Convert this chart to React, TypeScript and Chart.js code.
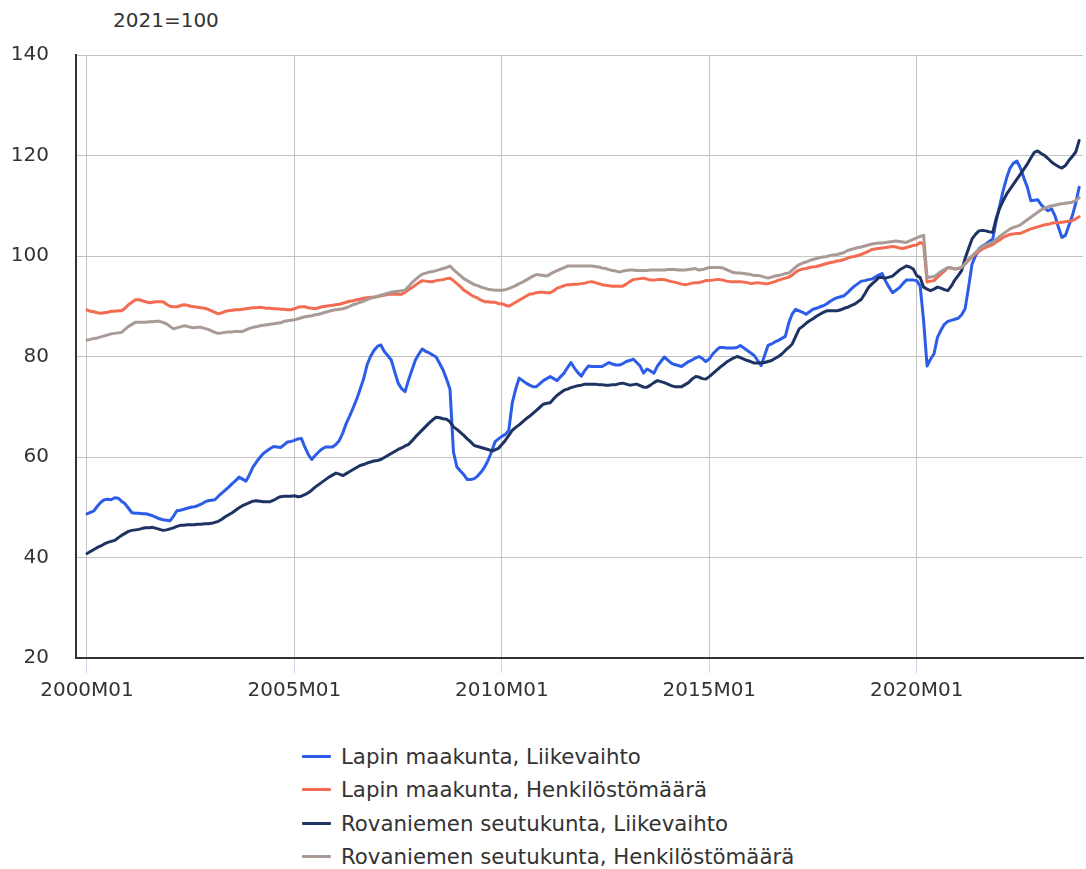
import React, { useEffect, useRef } from "react";
import { Chart, registerables } from "chart.js";

Chart.register(...registerables);

const YEARS: number[] = [2000, 2001, 2002, 2003, 2004, 2005, 2006, 2007, 2008, 2009, 2010, 2011, 2012, 2013, 2014, 2015, 2016, 2017, 2018, 2019, 2020, 2021, 2022, 2023];
const MONTHS: string[] = ["01", "02", "03", "04", "05", "06", "07", "08", "09", "10", "11", "12"];
const CATEGORIES: string[] = YEARS.flatMap((y) => MONTHS.map((m) => `${y}M${m}`));
const TICK_LABELS: string[] = ["2000M01", "2005M01", "2010M01", "2015M01", "2020M01"];
const Y_TICKS: number[] = [20, 40, 60, 80, 100, 120, 140];
const UNIT_LABEL = "2021=100";

const SERIES_NAMES: string[] = [
  "Lapin maakunta, Liikevaihto",
  "Lapin maakunta, Henkilöstömäärä",
  "Rovaniemen seutukunta, Liikevaihto",
  "Rovaniemen seutukunta, Henkilöstömäärä",
];
const SERIES_COLORS: string[] = ["#2b5de8", "#f36b50", "#1e3362", "#a99a96"];

const lapinLiikevaihto: number[] = [
  48.7, 49.0, 49.3, 50.2, 51.0, 51.5, 51.6, 51.5, 51.9, 51.8, 51.2, 50.7,
  49.8, 48.9, 48.8, 48.8, 48.7, 48.7, 48.5, 48.3, 48.0, 47.7, 47.5, 47.4,
  47.3, 48.2, 49.3, 49.4, 49.6, 49.8, 50.0, 50.1, 50.3, 50.6, 51.0, 51.3,
  51.4, 51.5, 52.2, 52.8, 53.4, 54.0, 54.7, 55.3, 56.0, 55.6, 55.2, 56.5,
  58.0, 59.0, 59.9, 60.7, 61.2, 61.7, 62.1, 62.0, 61.9, 62.4, 63.0, 63.1,
  63.3, 63.6, 63.7, 62.0, 60.5, 59.5, 60.3, 61.0, 61.6, 62.0, 62.0, 62.0,
  62.5, 63.3, 64.8, 66.7, 68.2, 69.8, 71.5, 73.5, 75.5, 78.3, 80.0, 81.2,
  82.0, 82.3, 81.0, 80.2, 79.3, 77.0, 74.7, 73.6, 73.0, 75.3, 77.3, 79.3,
  80.5, 81.5, 81.0, 80.7, 80.3, 79.9, 78.6, 77.3, 75.5, 73.5, 61.0, 58.0,
  57.2, 56.5, 55.5, 55.5, 55.7, 56.2, 57.0, 58.0, 59.3, 61.0, 63.0, 63.6,
  64.1, 64.5, 65.3, 70.7, 73.5, 75.7, 75.2, 74.7, 74.3, 74.0, 74.0, 74.6,
  75.2, 75.6, 76.0, 75.6, 75.2, 76.0, 76.7, 77.8, 78.8, 77.7, 76.8, 76.1,
  77.2, 78.1, 78.0, 78.0, 78.0, 78.0, 78.4, 78.8, 78.5, 78.3, 78.3, 78.6,
  79.0, 79.2, 79.5, 78.8, 78.1, 76.7, 77.5, 77.1, 76.7, 78.1, 79.0, 79.9,
  79.3, 78.7, 78.4, 78.2, 78.0, 78.5, 79.0, 79.3, 79.7, 80.0, 79.6, 79.0,
  79.5, 80.5, 81.2, 81.8, 81.8, 81.7, 81.7, 81.7, 81.8, 82.2, 81.7, 81.2,
  80.7, 80.2, 79.2, 78.2, 80.2, 82.2, 82.5, 82.9, 83.2, 83.6, 84.0, 86.7,
  88.5, 89.4, 89.1, 88.8, 88.4, 88.9, 89.4, 89.6, 89.9, 90.1, 90.5, 91.0,
  91.4, 91.7, 91.9, 92.1, 92.7, 93.4, 94.0, 94.5, 95.0, 95.1, 95.3, 95.4,
  95.8, 96.2, 96.5, 95.0, 93.8, 92.7, 93.2, 93.7, 94.5, 95.2, 95.2, 95.2,
  95.1, 94.0, 87.1, 78.1, 79.5, 80.5, 83.8, 85.2, 86.4, 87.0, 87.2, 87.4,
  87.6, 88.3, 89.5, 93.8, 98.4, 100.0, 101.4, 102.0, 102.4, 102.9, 103.4, 107.0,
  110.0, 113.0, 115.5, 117.5, 118.5, 118.9, 117.5, 115.5, 113.7, 111.0, 111.1, 111.2,
  110.2, 109.5, 109.0, 109.4, 108.0, 105.7, 103.7, 104.1, 106.0, 108.0, 110.5, 113.7,
];

const lapinHenkilosto: number[] = [
  89.3, 89.0, 88.9, 88.7, 88.6, 88.7, 88.8, 89.0, 89.0, 89.1, 89.1, 89.6,
  90.3, 90.8, 91.3, 91.3, 91.1, 90.9, 90.7, 90.8, 90.9, 90.9, 90.9, 90.4,
  90.0, 89.9, 89.9, 90.1, 90.3, 90.2, 90.0, 89.9, 89.8, 89.7, 89.6, 89.4,
  89.1, 88.8, 88.5, 88.7, 89.0, 89.1, 89.2, 89.3, 89.3, 89.4, 89.5, 89.6,
  89.7, 89.7, 89.8, 89.7, 89.6, 89.6, 89.5, 89.5, 89.4, 89.4, 89.3, 89.3,
  89.5, 89.8, 89.9, 89.9, 89.7, 89.6, 89.5, 89.7, 89.9, 90.0, 90.1, 90.2,
  90.3, 90.4, 90.6, 90.8, 91.0, 91.1, 91.3, 91.4, 91.6, 91.7, 91.8, 91.8,
  91.9, 92.1, 92.2, 92.4, 92.4, 92.4, 92.4, 92.4, 92.8, 93.3, 93.7, 94.2,
  94.7, 95.1, 95.0, 94.9, 94.9, 95.1, 95.2, 95.3, 95.5, 95.6, 95.1, 94.5,
  93.9, 93.2, 92.8, 92.3, 91.9, 91.6, 91.2, 90.9, 90.9, 90.8, 90.8, 90.5,
  90.5, 90.2, 90.0, 90.4, 90.8, 91.2, 91.6, 92.0, 92.4, 92.5, 92.7, 92.8,
  92.8, 92.7, 92.7, 93.1, 93.6, 93.8, 94.1, 94.3, 94.3, 94.4, 94.4, 94.5,
  94.6, 94.8, 94.9, 94.7, 94.5, 94.3, 94.2, 94.1, 94.0, 94.0, 94.0, 94.0,
  94.4, 94.9, 95.3, 95.4, 95.5, 95.6, 95.4, 95.2, 95.2, 95.3, 95.3, 95.3,
  95.1, 94.9, 94.8, 94.6, 94.4, 94.3, 94.4, 94.6, 94.7, 94.7, 94.9, 95.1,
  95.1, 95.2, 95.3, 95.3, 95.2, 95.0, 94.9, 94.9, 94.9, 94.9, 94.8, 94.7,
  94.5, 94.6, 94.7, 94.6, 94.5, 94.5, 94.7, 94.9, 95.2, 95.4, 95.6, 95.8,
  96.2, 96.8, 97.2, 97.4, 97.5, 97.7, 97.8, 97.9, 98.1, 98.3, 98.5, 98.7,
  98.8, 99.0, 99.1, 99.3, 99.6, 99.8, 99.9, 100.1, 100.3, 100.6, 100.9, 101.3,
  101.4, 101.5, 101.6, 101.7, 101.8, 101.9, 101.8, 101.6, 101.5, 101.7, 101.9, 102.1,
  102.2, 102.7, 102.4, 94.8, 95.0, 95.1, 95.8, 96.4, 97.0, 97.7, 97.6, 97.4,
  97.5, 97.7, 98.4, 99.1, 99.8, 100.4, 100.9, 101.4, 101.7, 102.0, 102.3, 102.8,
  103.2, 103.7, 104.0, 104.3, 104.4, 104.5, 104.5, 104.8, 105.1, 105.4, 105.6, 105.8,
  106.0, 106.2, 106.3, 106.5, 106.6, 106.6, 106.7, 106.8, 106.9, 107.0, 107.4, 107.8,
];

const rovaniemiLiikevaihto: number[] = [
  40.8, 41.2, 41.6, 42.0, 42.3, 42.7, 43.0, 43.2, 43.4, 43.9, 44.4, 44.8,
  45.2, 45.4, 45.5, 45.6, 45.8, 45.9, 45.9, 46.0, 45.8, 45.6, 45.4, 45.5,
  45.7, 45.9, 46.2, 46.4, 46.4, 46.5, 46.5, 46.5, 46.6, 46.6, 46.7, 46.7,
  46.8, 47.0, 47.2, 47.6, 48.1, 48.5, 48.9, 49.4, 49.9, 50.3, 50.6, 50.9,
  51.2, 51.3, 51.2, 51.1, 51.1, 51.1, 51.4, 51.8, 52.1, 52.2, 52.2, 52.2,
  52.3, 52.1, 52.2, 52.5, 52.9, 53.4, 54.0, 54.5, 55.0, 55.5, 56.0, 56.4,
  56.8, 56.6, 56.3, 56.7, 57.1, 57.5, 57.9, 58.3, 58.5, 58.8, 59.0, 59.2,
  59.3, 59.5, 59.9, 60.3, 60.7, 61.1, 61.5, 61.8, 62.2, 62.5, 63.2, 64.0,
  64.7, 65.4, 66.1, 66.8, 67.4, 67.9, 67.8, 67.6, 67.5, 67.0, 66.0, 65.5,
  64.9, 64.3, 63.6, 63.0, 62.3, 62.1, 61.9, 61.7, 61.5, 61.2, 61.4, 61.7,
  62.5, 63.3, 64.3, 65.3, 65.9, 66.4, 67.0, 67.6, 68.1, 68.7, 69.3, 69.9,
  70.5, 70.7, 70.8, 71.6, 72.3, 72.8, 73.3, 73.5, 73.8, 74.0, 74.2, 74.3,
  74.5, 74.5, 74.5, 74.5, 74.4, 74.4, 74.3, 74.3, 74.4, 74.4, 74.6, 74.7,
  74.5, 74.3, 74.4, 74.5, 74.2, 73.9, 73.9, 74.3, 74.8, 75.2, 75.0, 74.8,
  74.5, 74.2, 74.0, 74.0, 74.0, 74.4, 74.8, 75.5, 76.0, 75.9, 75.6, 75.5,
  76.0, 76.6, 77.2, 77.8, 78.3, 78.9, 79.3, 79.7, 80.0, 79.8, 79.5, 79.2,
  79.0, 78.7, 78.7, 78.7, 78.8, 79.0, 79.2, 79.6, 80.0, 80.5, 81.2, 81.8,
  82.5, 84.0, 85.5, 86.0, 86.6, 87.1, 87.5, 88.0, 88.4, 88.8, 89.1, 89.1,
  89.1, 89.1, 89.3, 89.6, 89.8, 90.1, 90.4, 90.9, 91.4, 92.5, 93.7, 94.4,
  95.0, 95.7, 95.7, 95.6, 95.8, 96.0, 96.6, 97.2, 97.6, 98.0, 97.8, 97.4,
  96.1, 95.7, 93.8, 93.4, 93.1, 93.4, 93.8, 93.6, 93.3, 93.1, 94.0, 95.2,
  96.1, 97.1, 99.5, 101.5, 103.4, 104.3, 105.0, 105.1, 105.0, 104.8, 104.7, 107.5,
  109.5, 111.0, 112.3, 113.3, 114.3, 115.3, 116.3, 117.3, 118.3, 119.5, 120.6, 120.9,
  120.4, 120.0, 119.4, 118.7, 118.2, 117.8, 117.5, 118.0, 119.0, 119.8, 120.7, 123.0,
];

const rovaniemiHenkilosto: number[] = [
  83.3, 83.4, 83.6, 83.7, 83.9, 84.1, 84.3, 84.5, 84.6, 84.7, 84.8, 85.4,
  86.0, 86.4, 86.8, 86.8, 86.8, 86.8, 86.9, 86.9, 87.0, 87.0, 86.8, 86.5,
  86.0, 85.5, 85.7, 85.9, 86.1, 86.0, 85.8, 85.7, 85.8, 85.8, 85.6, 85.4,
  85.1, 84.8, 84.6, 84.7, 84.8, 84.9, 84.9, 85.0, 85.0, 85.0, 85.3, 85.6,
  85.8, 85.9, 86.1, 86.2, 86.3, 86.4, 86.5, 86.6, 86.7, 87.0, 87.1, 87.2,
  87.3, 87.5, 87.7, 87.9, 88.0, 88.1, 88.3, 88.4, 88.6, 88.8, 89.0, 89.2,
  89.3, 89.4, 89.5, 89.7, 90.0, 90.3, 90.5, 90.8, 91.0, 91.3, 91.6, 91.8,
  92.0, 92.2, 92.4, 92.6, 92.8, 92.9, 93.0, 93.1, 93.2, 93.9, 94.7, 95.3,
  95.9, 96.4, 96.6, 96.8, 96.9, 97.1, 97.3, 97.5, 97.7, 98.0, 97.3, 96.7,
  96.1, 95.5, 95.1, 94.7, 94.3, 94.1, 93.8, 93.6, 93.4, 93.3, 93.2, 93.2,
  93.2, 93.3, 93.5, 93.8, 94.1, 94.5, 94.8, 95.2, 95.6, 96.0, 96.3, 96.2,
  96.1, 96.0, 96.4, 96.8, 97.1, 97.4, 97.7, 98.0, 98.0, 98.0, 98.0, 98.0,
  98.0, 98.0, 98.0, 97.9, 97.8, 97.6, 97.5, 97.3, 97.1, 97.0, 96.8, 97.0,
  97.1, 97.2, 97.2, 97.1, 97.1, 97.1, 97.1, 97.2, 97.2, 97.2, 97.2, 97.2,
  97.3, 97.3, 97.3, 97.2, 97.2, 97.2, 97.3, 97.4, 97.5, 97.2, 97.3, 97.5,
  97.7, 97.7, 97.7, 97.7, 97.6, 97.3, 97.0, 96.7, 96.6, 96.6, 96.5, 96.4,
  96.3, 96.1, 96.1, 96.0, 95.8, 95.6, 95.8, 96.0, 96.1, 96.3, 96.5, 96.6,
  97.2, 97.8, 98.3, 98.6, 98.8, 99.1, 99.3, 99.5, 99.7, 99.8, 99.9, 100.1,
  100.2, 100.3, 100.5, 100.7, 101.1, 101.3, 101.5, 101.7, 101.8, 102.0, 102.2, 102.4,
  102.5, 102.6, 102.6, 102.7, 102.8, 102.9, 103.0, 102.9, 102.8, 102.7, 103.0, 103.3,
  103.6, 103.9, 104.1, 95.7, 95.8, 95.9, 96.4, 96.9, 97.3, 97.7, 97.6, 97.4,
  97.5, 97.7, 98.5, 99.4, 100.0, 100.7, 101.3, 101.9, 102.2, 102.5, 102.7, 103.3,
  103.9, 104.4, 104.9, 105.4, 105.7, 105.9, 106.2, 106.7, 107.2, 107.7, 108.2, 108.7,
  109.2, 109.5, 109.8, 110.0, 110.1, 110.3, 110.4, 110.5, 110.6, 110.7, 111.0, 111.6,
];

const SERIES_VALUES: number[][] = [lapinLiikevaihto, lapinHenkilosto, rovaniemiLiikevaihto, rovaniemiHenkilosto];

const FONT = 'Verdana, "DejaVu Sans", sans-serif';
const TEXT = "#333333";

export default function App() {
  const canvasRef = useRef<HTMLCanvasElement | null>(null);

  useEffect(() => {
    const canvas = canvasRef.current;
    if (!canvas) return;
    const tickIdx = TICK_LABELS.map((l) => CATEGORIES.indexOf(l));
    const chart = new Chart(canvas, {
      type: "line",
      data: {
        datasets: SERIES_VALUES.map((vals, si) => ({
          label: SERIES_NAMES[si],
          data: vals.map((v, i) => ({ x: i, y: v })),
          borderColor: SERIES_COLORS[si],
          backgroundColor: SERIES_COLORS[si],
          borderWidth: 3,
          pointRadius: 0,
          tension: 0,
          borderJoinStyle: "round" as const,
          borderCapStyle: "round" as const,
          order: SERIES_VALUES.length - si,
        })),
      },
      options: {
        animation: false,
        responsive: false,
        devicePixelRatio: 1,
        layout: { padding: { top: 55, right: 3, bottom: 0, left: 0 } },
        plugins: {
          legend: { display: false },
          tooltip: { enabled: false },
          title: { display: false },
        },
        scales: {
          x: {
            type: "linear",
            min: -3.18,
            max: 288.1,
            afterBuildTicks: (scale: any) => {
              scale.ticks = tickIdx.map((v) => ({ value: v }));
            },
            afterFit: (scale: any) => {
              scale.height = 52;
            },
            ticks: {
              autoSkip: false,
              maxRotation: 0,
              padding: 6,
              color: TEXT,
              font: { family: FONT, size: 20 },
              callback: (value: any) => CATEGORIES[Math.round(Number(value))],
            },
            grid: {
              color: "#c4c4c4",
              lineWidth: 1,
              tickColor: "#ccd6eb",
              tickLength: 15,
            },
            border: { display: true, color: "#333333", width: 2 },
          },
          y: {
            type: "linear",
            min: Y_TICKS[0],
            max: Y_TICKS[Y_TICKS.length - 1],
            afterBuildTicks: (scale: any) => {
              scale.ticks = Y_TICKS.map((v) => ({ value: v }));
            },
            afterFit: (scale: any) => {
              scale.width = 76;
            },
            ticks: {
              padding: 27,
              color: TEXT,
              font: { family: FONT, size: 20 },
            },
            grid: {
              color: "#c4c4c4",
              lineWidth: 1,
              drawTicks: false,
            },
            border: { display: true, color: "#333333", width: 2 },
          },
        },
      },
    });
    return () => chart.destroy();
  }, []);

  return (
    <div style={{ position: "absolute", left: 0, top: 0, width: 1086, height: 869, background: "#ffffff", fontFamily: FONT, color: TEXT }}>
      <div style={{ position: "absolute", left: 113, top: 8, fontSize: 20, whiteSpace: "nowrap" }}>{UNIT_LABEL}</div>
      <canvas ref={canvasRef} width={1086} height={710} style={{ position: "absolute", left: 0, top: 0, width: 1086, height: 710 }} />
      <div style={{ position: "absolute", left: 302, top: 740 }}>
        {SERIES_NAMES.map((name, i) => (
          <div key={name} style={{ display: "flex", alignItems: "center", height: 33.33, fontSize: 21.3, whiteSpace: "nowrap" }}>
            <span style={{ display: "inline-block", width: 29, height: 3, background: SERIES_COLORS[i], marginRight: 10, borderRadius: 1 }} />
            <span>{name}</span>
          </div>
        ))}
      </div>
    </div>
  );
}
